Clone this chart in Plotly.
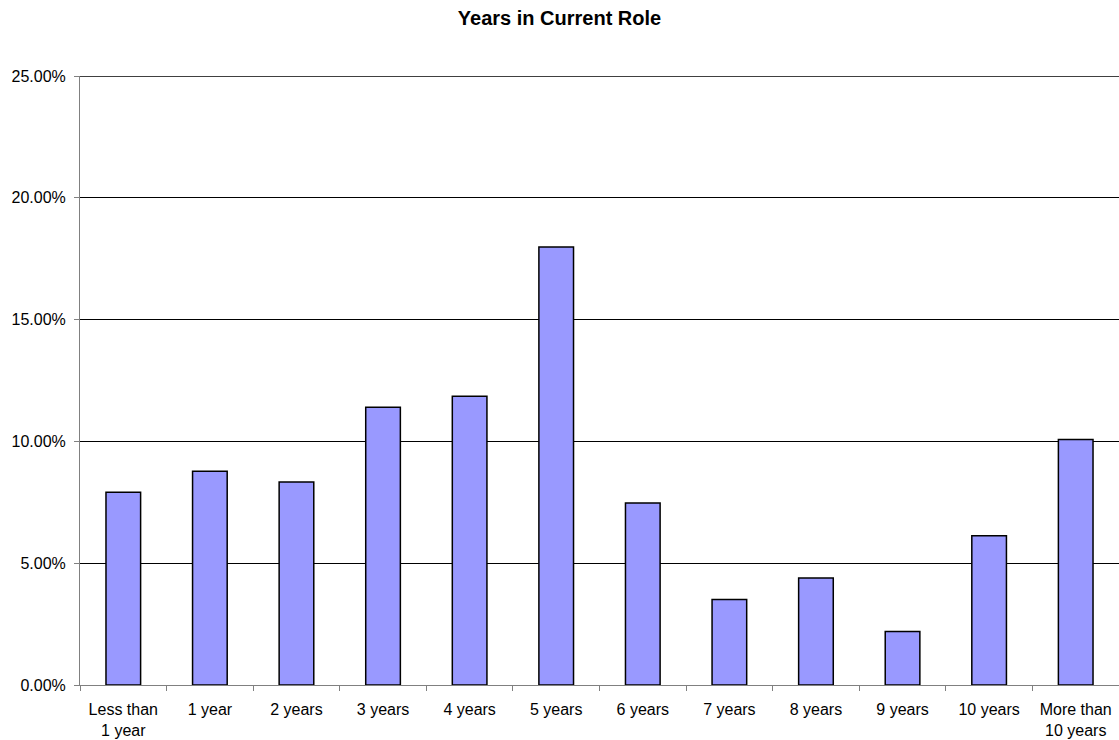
import plotly.graph_objects as go

# Share of respondents by years in current role (percent)
categories = [
    "Less than<br>1 year", "1 year", "2 years", "3 years", "4 years", "5 years",
    "6 years", "7 years", "8 years", "9 years", "10 years", "More than<br>10 years",
]
shares = [7.91, 8.77, 8.33, 11.40, 11.85, 17.98, 7.47, 3.51, 4.39, 2.20, 6.13, 10.08]

y_ticks = [0, 5, 10, 15, 20, 25]

fig = go.Figure(
    go.Bar(
        x=categories,
        y=shares,
        marker=dict(color="#9999FF", line=dict(color="#000000", width=1.5)),
    )
)

font = "Liberation Sans, Arial, sans-serif"

fig.update_layout(
    width=1119,
    height=740,
    margin=dict(l=80, r=0, t=76, b=55),
    paper_bgcolor="white",
    plot_bgcolor="white",
    bargap=0.6,
    showlegend=False,
    title=dict(
        text="<b>Years in Current Role</b>",
        x=0.5,
        xanchor="center",
        y=1 - 18 / 740,
        yanchor="middle",
        font=dict(family=font, size=20, color="#000000"),
    ),
    font=dict(family=font, size=16, color="#000000"),
)

# top gridline at the upper end of the value range
fig.add_shape(
    type="line", xref="paper", yref="y",
    x0=0, x1=1, y0=y_ticks[-1], y1=y_ticks[-1],
    line=dict(color="#000000", width=1.3),
)

fig.update_xaxes(
    type="category",
    tickson="boundaries",
    ticks="outside",
    ticklen=5,
    tickcolor="#808080",
    showline=True,
    linecolor="#808080",
    linewidth=1,
    showgrid=False,
    ticklabelstandoff=10,
    tickfont=dict(family=font, size=16, color="#000000"),
)

fig.update_yaxes(
    range=[0, 25],
    tickvals=y_ticks,
    ticktext=[f"{v:.2f}%" for v in y_ticks],
    ticks="outside",
    ticklen=5,
    tickcolor="#808080",
    showline=True,
    linecolor="#808080",
    linewidth=1,
    showgrid=True,
    gridcolor="#000000",
    gridwidth=1,
    zeroline=False,
    ticklabelstandoff=5,
    tickfont=dict(family=font, size=16, color="#000000"),
)

fig.write_html("out.html")
